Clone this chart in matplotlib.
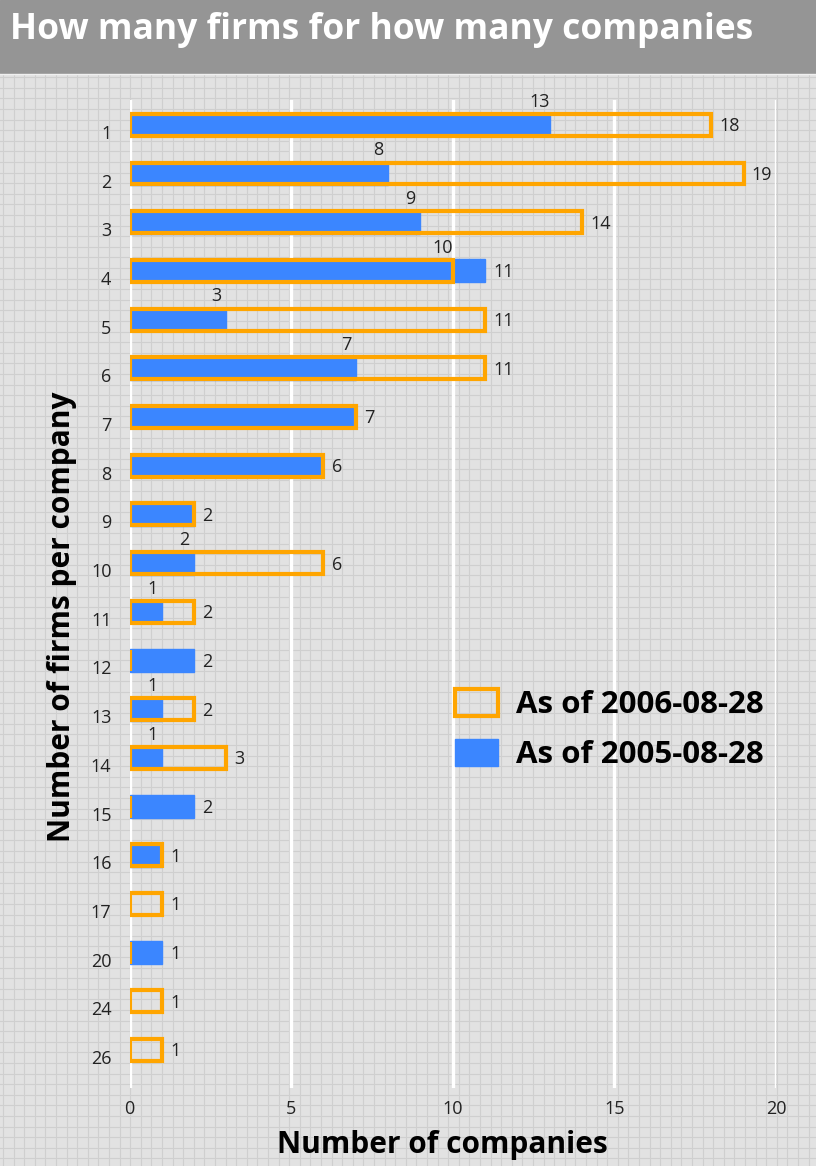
import numpy as np
import matplotlib.pyplot as plt
import matplotlib.transforms as mtransforms

# data
firms = ['1', '2', '3', '4', '5', '6', '7', '8', '9', '10', '11', '12',
         '13', '14', '15', '16', '17', '20', '24', '26']
as_of_2006 = [18, 19, 14, 10, 11, 11, 7, 6, 2, 6, 2, 0, 2, 3, 0, 1, 1, 0, 1, 1]
as_of_2005 = [13, 8, 9, 11, 3, 7, 7, 6, 2, 2, 1, 2, 1, 1, 2, 1, 0, 1, 0, 0]
x_ticks = [0, 5, 10, 15, 20]

orange = '#FFA500'
blue = '#3B86FF'
text_col = '#222222'
plt.rcParams['font.family'] = ['Open Sans', 'DejaVu Sans']

W, H = 816, 1166
fig = plt.figure(figsize=(W / 100, H / 100), dpi=100)
fig.patch.set_facecolor('#e2e2e2')

# graph-paper background
bg = fig.add_axes([0, 0, 1, 1])
bg.set_xlim(0, W)
bg.set_ylim(H, 0)
bg.axis('off')
for gx in np.arange(3, W, 10.6):
    bg.axvline(gx, color='#cfcfcf', lw=0.8, zorder=0)
for gy in np.arange(3, H, 10.6):
    bg.axhline(gy, color='#cfcfcf', lw=0.8, zorder=0)
# title banner
bg.add_patch(plt.Rectangle((0, 0), W, 73, color='#959595', zorder=2))
bg.axhline(73.5, color='#f0f0f0', lw=1, zorder=2)
bg.text(10, 30, 'How many firms for how many companies', color='white',
        fontsize=25.5, fontweight='bold', va='center', ha='left', zorder=3)

# main axes
left, right = 129.5, 776
top, bottom = 100, 1088
ax = fig.add_axes([left / W, 1 - bottom / H, (right - left) / W, (bottom - top) / H])
ax.set_facecolor('none')
ax.set_xlim(0, 20)
y = np.arange(len(firms))
ax.set_ylim(len(firms) - 1 + 0.78, -0.51)
for s in ax.spines.values():
    s.set_visible(False)
ax.set_xticks(x_ticks)
ax.grid(axis='x', color='white', lw=2.4, zorder=0)
ax.tick_params(length=0, labelsize=13, labelcolor=text_col)
ax.tick_params(axis='x', pad=9)
ax.tick_params(axis='y', pad=13)
ax.set_yticks(y)
ax.set_yticklabels(firms)
# y tick labels sit a little below the bar centres in the reference
shift = mtransforms.ScaledTranslation(0, -7 / 100, fig.dpi_scale_trans)
for lab in ax.get_yticklabels():
    lab.set_transform(lab.get_transform() + shift)

ax.barh(y, as_of_2005, height=0.47, color=blue, edgecolor=blue, lw=1,
        zorder=2, label='As of 2005-08-28')
ax.barh(y, as_of_2006, height=0.45, facecolor='none', edgecolor=orange, lw=3,
        zorder=3, label='As of 2006-08-28')

for i in range(len(firms)):
    a, b = as_of_2006[i], as_of_2005[i]
    big = max(a, b)
    small = min(a, b)
    ax.text(big + 0.25, i + 0.03, str(big), va='center', ha='left', fontsize=13,
            color=text_col, zorder=4)
    if small > 0 and small != big:
        ax.text(small - 0.3, i - 0.29, str(small), va='bottom', ha='center',
                fontsize=13, color=text_col, zorder=4)

ax.set_xlabel('Number of companies', fontsize=21.5, fontweight='bold',
              color='black', labelpad=8)
ax.xaxis.label.set_x((442 - left) / (right - left))
ax.set_ylabel('Number of firms per company', fontsize=21.5, fontweight='bold',
              color='black', labelpad=10)
ax.yaxis.label.set_y((bottom - 617) / (bottom - top))

handles, labels = ax.get_legend_handles_labels()
leg = ax.legend(handles[::-1], labels[::-1], loc='upper left',
                bbox_to_anchor=((455 - left) / (right - left), (bottom - 689) / (bottom - top)),
                frameon=False, prop={'size': 22.5, 'weight': 'bold'},
                borderpad=0, borderaxespad=0,
                handlelength=1.39, handleheight=0.94, labelspacing=0.6,
                handletextpad=0.55)

plt.savefig('out.png', dpi=100)
